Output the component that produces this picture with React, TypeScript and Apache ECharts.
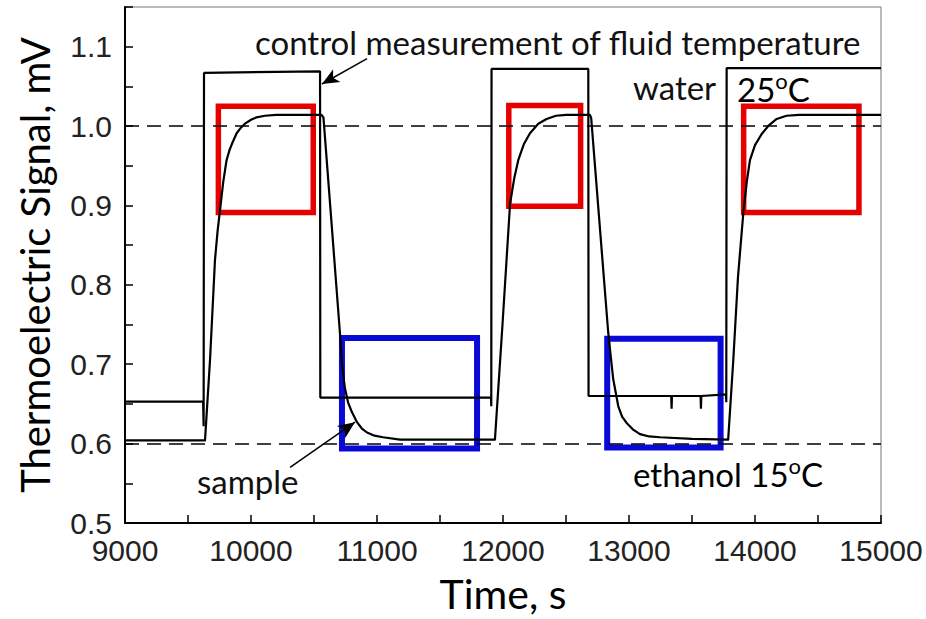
import React, { useEffect, useRef } from "react";
import * as echarts from "echarts";

// Fluid (control) temperature signal, [time s, mV]
const controlSignal: [number, number][] = [
  [9000, 0.653], [9620, 0.653], [9624, 0.622], [9627, 1.067],
  [10548, 1.069], [10550, 0.658],
  [11905, 0.658], [11907, 0.647], [11909, 1.072],
  [12677, 1.072], [12679, 0.66],
  [13335, 0.66], [13338, 0.644], [13341, 0.66],
  [13568, 0.66], [13571, 0.644], [13574, 0.66],
  [13770, 0.662], [13772, 0.652], [13775, 1.073], [15000, 1.073],
];

// Sample thermoelectric signal, [time s, mV]
const sampleSignal: [number, number][] = [
  [9000, 0.604], [9635, 0.604], [9675, 0.706], [9714, 0.831], [9735, 0.868],
  [9754, 0.894], [9780, 0.93], [9806, 0.957], [9830, 0.97], [9850, 0.978],
  [9886, 0.991], [9920, 0.998], [9952, 1.003], [10000, 1.008], [10044, 1.011],
  [10110, 1.013], [10200, 1.014], [10560, 1.014], [10575, 1.011], [10706, 0.739],
  [10722, 0.7], [10745, 0.67], [10770, 0.652], [10800, 0.64], [10841, 0.627],
  [10880, 0.619], [10921, 0.614], [10980, 0.61], [11048, 0.608], [11183, 0.605],
  [11500, 0.605], [11936, 0.605], [11996, 0.75], [12056, 0.902], [12090, 0.935],
  [12121, 0.957], [12165, 0.977], [12214, 0.991], [12280, 1.003], [12346, 1.009],
  [12420, 1.013], [12500, 1.014], [12690, 1.014], [12700, 1.01], [12835, 0.74],
  [12855, 0.71], [12875, 0.681], [12915, 0.647], [12945, 0.634], [12981, 0.626],
  [13030, 0.618], [13087, 0.612], [13160, 0.609], [13246, 0.608], [13500, 0.606],
  [13787, 0.605], [13828, 0.706], [13865, 0.81], [13907, 0.89], [13935, 0.93],
  [13960, 0.957], [14000, 0.976], [14053, 0.99], [14110, 1.001], [14172, 1.009],
  [14250, 1.013], [14350, 1.014], [15000, 1.014],
];

// Reference levels (water 25°C, ethanol 15°C)
const referenceLevels = [1.0, 0.6];

// Highlight boxes: [x1, y1, x2, y2] in data units
const redBoxes: [number, number, number, number][] = [
  [9741, 1.025, 10494, 0.891],
  [12046, 1.026, 12616, 0.899],
  [13910, 1.025, 14825, 0.891],
];
const blueBoxes: [number, number, number, number][] = [
  [10722, 0.733, 11794, 0.594],
  [12827, 0.732, 13727, 0.595],
];

// Annotation arrows: [from, to] in data units
const controlArrow: [number, number][] = [[10921, 1.085], [10563, 1.053]];
const sampleArrow: [number, number][] = [[10310, 0.57], [10825, 0.627]];

const RED = "#e60000";
const BLUE = "#0a0ad8";

export default function App() {
  const ref = useRef<HTMLDivElement>(null);

  useEffect(() => {
    if (!ref.current) return;
    const chart = echarts.init(ref.current, undefined, { renderer: "svg" });

    const boxItem = (b: [number, number, number, number], color: string, w: number) => [
      {
        coord: [b[0], b[1]],
        itemStyle: { color: "rgba(0,0,0,0)", borderColor: color, borderWidth: w },
      },
      { coord: [b[2], b[3]] },
    ];

    const arrowItem = (a: [number, number][]) => [
      { coord: a[0], symbol: "none" },
      { coord: a[1], symbol: "arrow", symbolSize: [11, 17] },
    ];

    const annFont = { fontFamily: "Lato", fontSize: 33, fill: "#111" };
    const degRich = {
      n: { fontFamily: "Lato", fontSize: 33, color: "#111", lineHeight: 40 },
      s: { fontFamily: "Lato", fontSize: 22, color: "#111", lineHeight: 14, verticalAlign: "top" },
    };

    chart.setOption({
      animation: false,
      backgroundColor: "#fff",
      grid: {
        left: 125,
        right: 45,
        top: 7,
        bottom: 95,
        show: true,
        borderColor: "#777",
        borderWidth: 1,
      },
      xAxis: {
        type: "value",
        min: 9000,
        max: 15000,
        interval: 500,
        name: "Time, s",
        nameLocation: "middle",
        nameGap: 50,
        nameTextStyle: { fontFamily: "Lato", fontSize: 41, color: "#000" },
        axisLine: { show: true, onZero: false, lineStyle: { color: "#000", width: 2 } },
        axisTick: { show: true, inside: true, length: 8, lineStyle: { color: "#000", width: 1.5 } },
        axisLabel: {
          margin: 12,
          fontFamily: "Liberation Sans",
          fontSize: 30,
          color: "#222",
          formatter: (v: number) => (v % 1000 === 0 ? String(v) : ""),
        },
        splitLine: { show: false },
      },
      yAxis: {
        type: "value",
        min: 0.5,
        max: 1.15,
        interval: 0.05,
        name: "Thermoelectric Signal, mV",
        nameLocation: "middle",
        nameGap: 70,
        nameTextStyle: { fontFamily: "Lato", fontSize: 40, color: "#000" },
        axisLine: { show: true, onZero: false, lineStyle: { color: "#000", width: 2 } },
        axisTick: { show: true, inside: true, length: 8, lineStyle: { color: "#000", width: 1.5 } },
        axisLabel: {
          margin: 13,
          fontFamily: "Liberation Sans",
          fontSize: 30,
          color: "#222",
          formatter: (v: number) =>
            Math.round(v * 100) % 10 === 0 ? v.toFixed(1) : "",
        },
        splitLine: { show: false },
      },
      series: [
        {
          name: "control",
          type: "line",
          data: controlSignal,
          showSymbol: false,
          lineStyle: { color: "#000", width: 2.2 },
          z: 3,
          markLine: {
            silent: true,
            symbol: ["none", "none"],
            label: { show: false },
            lineStyle: { type: [14, 8], color: "#000", width: 1.5 },
            data: referenceLevels.map((v) => ({ yAxis: v })),
          },
          markArea: {
            silent: true,
            data: [
              ...redBoxes.map((b) => boxItem(b, RED, 5.5)),
              ...blueBoxes.map((b) => boxItem(b, BLUE, 6)),
            ],
          },
        },
        {
          name: "sample",
          type: "line",
          data: sampleSignal,
          showSymbol: false,
          lineStyle: { color: "#000", width: 2.2, join: "round" },
          z: 4,
          markLine: {
            silent: true,
            label: { show: false },
            lineStyle: { type: "solid", color: "#000", width: 1.5 },
            data: [arrowItem(controlArrow), arrowItem(sampleArrow)],
          },
        },
      ],
      graphic: [
        {
          type: "text",
          x: 255,
          y: 42,
          style: { ...annFont, text: "control measurement of fluid temperature", align: "left", verticalAlign: "middle" },
        },
        {
          type: "text",
          x: 633,
          y: 87,
          style: { ...annFont, text: "water", align: "left", verticalAlign: "middle" },
        },
        {
          type: "text",
          x: 737,
          y: 89,
          style: { text: "{n|25}{s|o}{n|C}", align: "left", verticalAlign: "middle", rich: degRich },
        },
        {
          type: "text",
          x: 197,
          y: 481,
          style: { ...annFont, text: "sample", align: "left", verticalAlign: "middle" },
        },
        {
          type: "text",
          x: 633,
          y: 474,
          style: { text: "{n|ethanol 15}{s|o}{n|C}", align: "left", verticalAlign: "middle", rich: degRich },
        },
      ],
    });

    return () => chart.dispose();
  }, []);

  return <div ref={ref} style={{ width: 926, height: 619, position: "absolute", left: 0, top: 0 }} />;
}
